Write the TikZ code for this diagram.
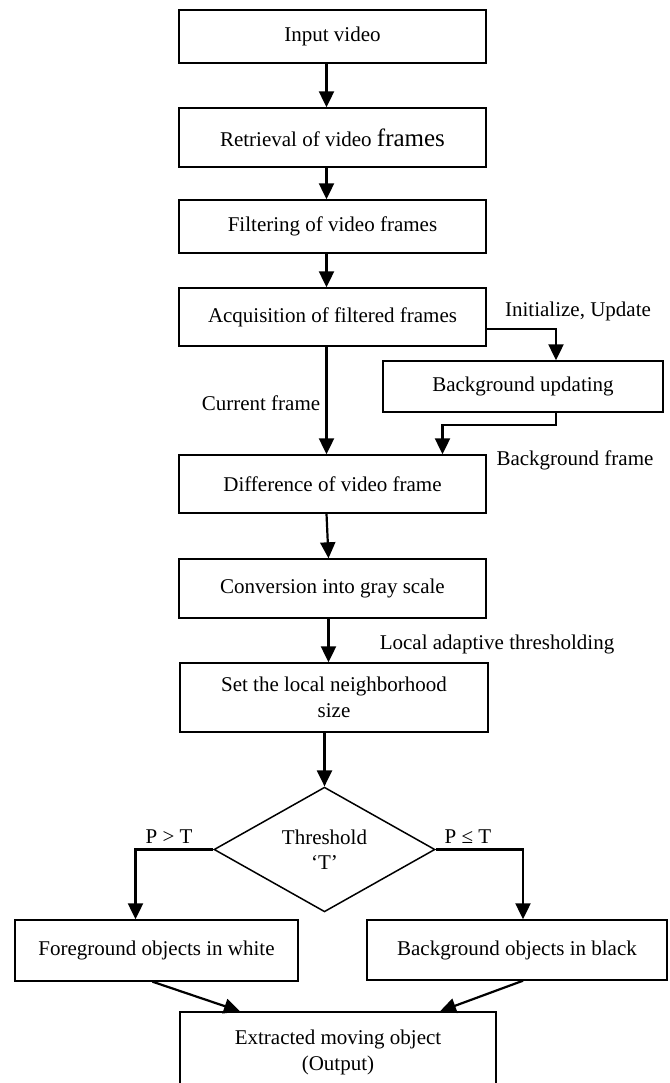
\documentclass[tikz,border=0pt]{standalone}
\usepackage{fontspec}
\setmainfont{Liberation Serif}
\usepackage{tikz}
\usetikzlibrary{shapes.geometric, arrows.meta, positioning, calc}

\begin{document}
\begin{tikzpicture}[
    x=1pt, y=-1pt,
    box/.style={rectangle, draw, line width=1.4pt, minimum width=307pt, inner sep=2pt, font=\fontsize{21}{26}\selectfont, align=center},
    dec/.style={diamond, draw, line width=1.5pt, minimum width=221pt, minimum height=113pt, inner sep=0pt, font=\fontsize{21}{25}\selectfont, align=center},
    lbl/.style={font=\fontsize{21}{26}\selectfont, inner sep=0pt},
    arr/.style={line width=2.2pt, -{Triangle[width=15pt,length=16pt]}}
]
\clip (0,0) rectangle (669,1083);
\node[box, minimum height=53pt] (inp) at (332.5,36.5) {Input video};
\node[box, minimum height=59pt] (ret) at (332.5,137.5) {Retrieval of video {\fontsize{25}{26}\selectfont frames}};
\node[box, minimum height=53pt] (fil) at (332.5,226.5) {Filtering of video frames};
\node[box, minimum height=58pt] (acq) at (332.5,317) {Acquisition of filtered frames};
\node[box, minimum width=280pt, minimum height=51pt] (bgu) at (523,386.5) {Background updating};
\node[box, minimum height=58pt] (dif) at (332.5,484) {Difference of video frame};
\node[box, minimum height=59pt] (cnv) at (332.5,588.5) {Conversion into gray scale};
\node[box, minimum width=308pt, minimum height=69pt] (nbh) at (334,697.5) {Set the local neighborhood\\size};
\node[dec] (thr) at (324.5,849.5) {Threshold\\‘T’};
\node[box, minimum width=283pt, minimum height=61pt] (fgo) at (156.5,950.5) {Foreground objects in white};
\node[box, minimum width=300pt, minimum height=60pt] (bgo) at (517,950) {Background objects in black};
\node[box, minimum width=316pt, minimum height=80pt] (out) at (338,1052) {Extracted moving object\\(Output)};

\node[lbl] at (578,311) {Initialize, Update};
\node[lbl] at (261,403) {Current frame};
\node[lbl] at (575,460) {Background frame};
\node[lbl] at (497,644) {Local adaptive thresholding};
\node[lbl] at (169,837) {P > T};
\node[lbl] at (468,837) {P ≤ T};

\draw[arr] ([xshift=-6pt]inp.south) -- ([xshift=-6pt]ret.north);
\draw[arr] ([xshift=-6pt]ret.south) -- ([xshift=-6pt]fil.north);
\draw[arr] ([xshift=-6pt]fil.south) -- ([xshift=-6pt]acq.north);
\draw[arr] ([xshift=-6pt]acq.south) -- ([xshift=-6pt]dif.north);
\draw[arr] ([yshift=-12pt]acq.east) -| ([xshift=33pt]bgu.north);
\draw[arr] ([xshift=33pt]bgu.south) -- ++(0,12) -| ([xshift=110pt]dif.north);
\draw[arr] ([xshift=-6pt]dif.south) -- ([xshift=-4pt]cnv.north);
\draw[arr] ([xshift=-4pt]cnv.south) -- ([xshift=-5.5pt]nbh.north);
\draw[arr] (nbh.south -| thr.north) -- (thr.north);
\draw[arr] (thr.west) -| ([xshift=-21pt]fgo.north);
\draw[arr] (thr.east) -| ([xshift=6pt]bgo.north);
\draw[arr] ([xshift=-4pt]fgo.south) -- ([xshift=-98pt]out.north);
\draw[arr] ([xshift=6pt]bgo.south) -- ([xshift=102pt]out.north);
\end{tikzpicture}
\end{document}
